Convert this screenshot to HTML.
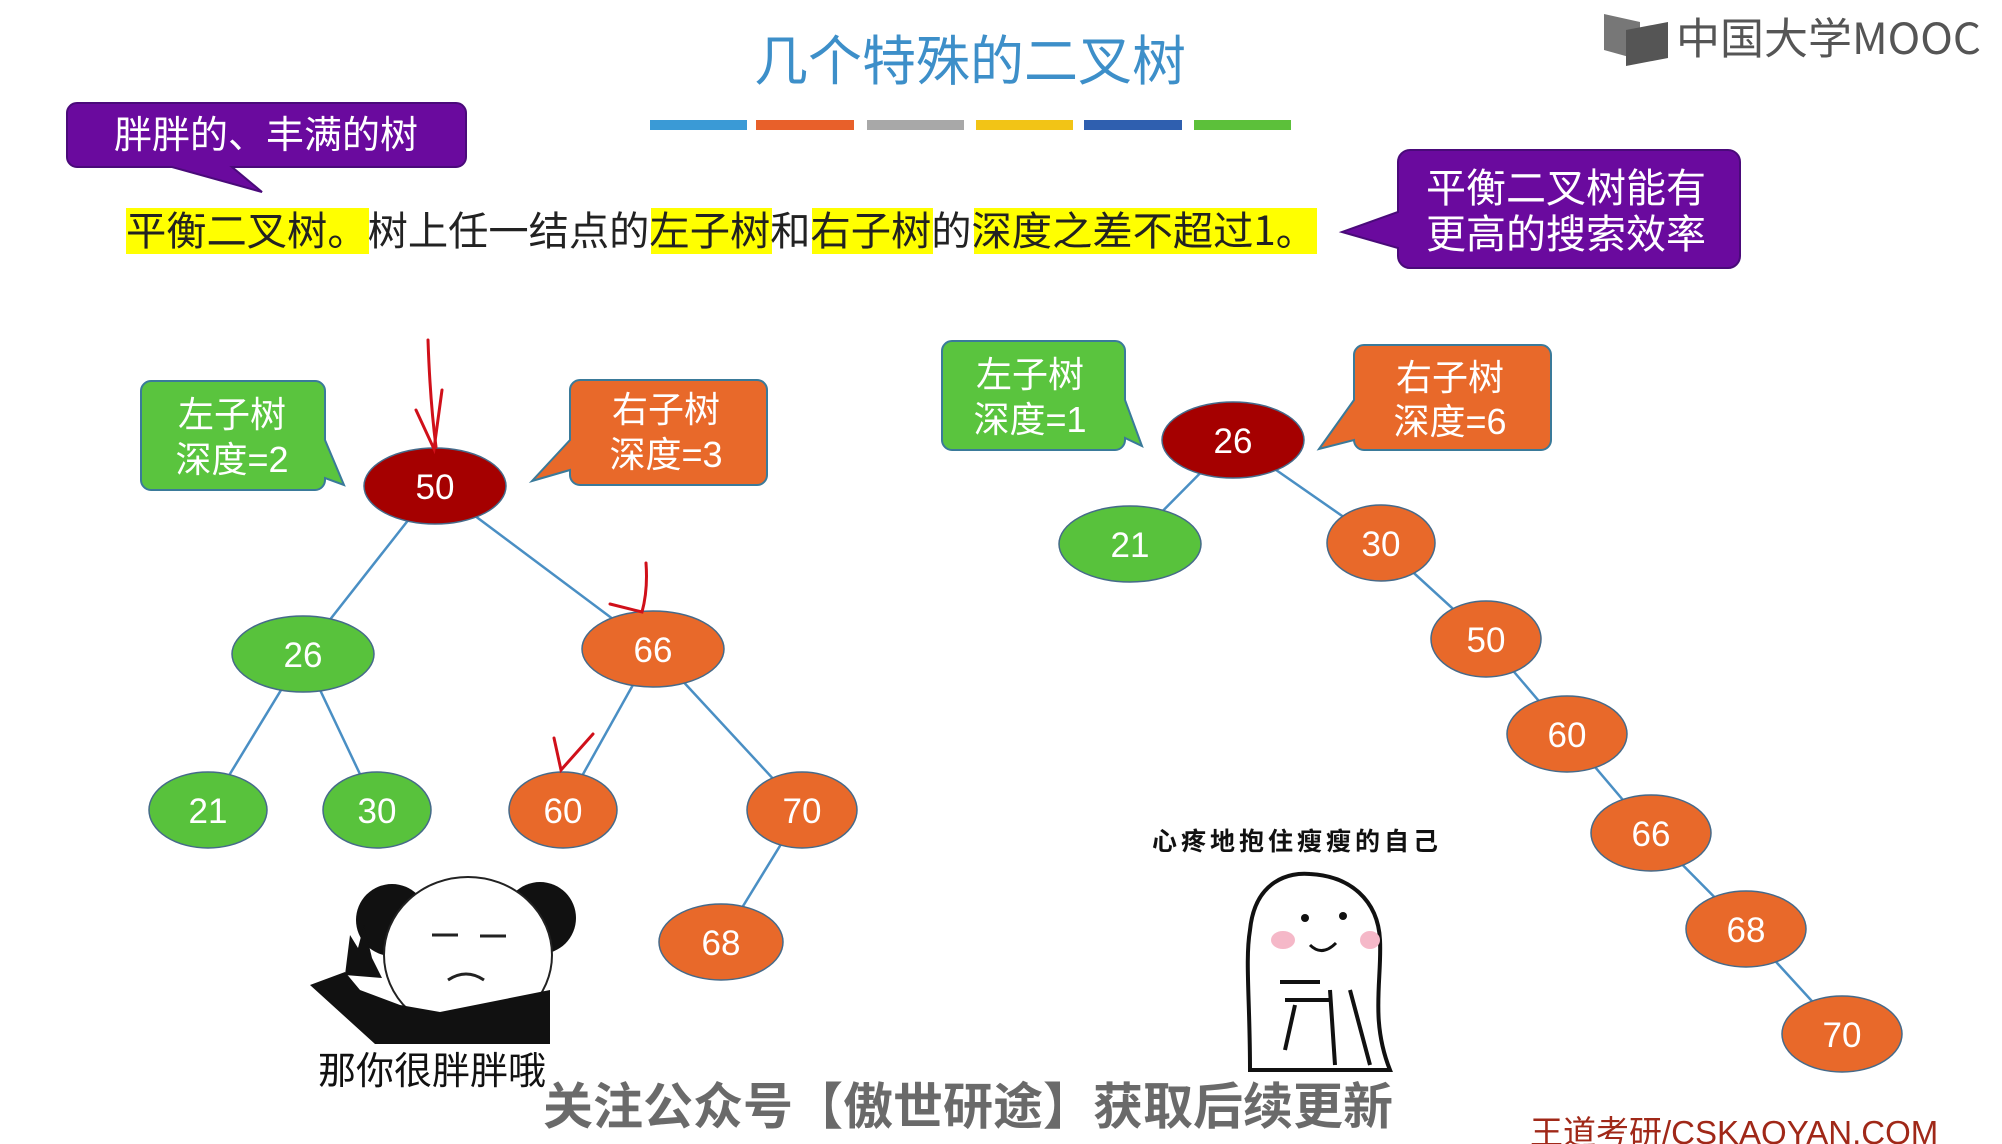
<!DOCTYPE html>
<html><head><meta charset="utf-8">
<style>
html,body{margin:0;padding:0;background:#fff;}
body{width:2002px;height:1144px;overflow:hidden;position:relative;font-family:"Liberation Sans","Noto Sans CJK SC",sans-serif;}
svg{position:absolute;left:0;top:0;}
</style></head><body>
<svg width="2002" height="1144" viewBox="0 0 2002 1144" xmlns="http://www.w3.org/2000/svg">
<!-- title -->
<text x="970" y="80" text-anchor="middle" font-size="54" fill="#3d8fc9" font-family="Noto Sans CJK SC,sans-serif">几个特殊的二叉树</text>
<!-- color bars -->
<rect x="650" y="120" width="97" height="10" fill="#3a9ad6"/>
<rect x="756" y="120" width="98" height="10" fill="#e8602a"/>
<rect x="867" y="120" width="97" height="10" fill="#a8a8a8"/>
<rect x="976" y="120" width="97" height="10" fill="#f2c416"/>
<rect x="1084" y="120" width="98" height="10" fill="#2f5faf"/>
<rect x="1194" y="120" width="97" height="10" fill="#5cc03a"/>
<!-- logo -->
<polygon points="1604,14 1640,22 1640,60 1604,50" fill="#777"/>
<polygon points="1626,30 1668,22 1668,58 1626,66" fill="#555"/>
<text x="1676" y="54" font-size="43" fill="#555" font-family="Noto Sans CJK SC,sans-serif" textLength="305" lengthAdjust="spacingAndGlyphs">中国大学MOOC</text>
<!-- purple box 1 -->
<path d="M80,103 H456 a10,10 0 0 1 10,10 V157 a10,10 0 0 1 -10,10 H232 L262,192 L172,167 H77 a10,10 0 0 1 -10,-10 V113 a10,10 0 0 1 10,-10Z" fill="#6a0a9e" stroke="#4a0a7a" stroke-width="2"/>
<text x="266" y="148" text-anchor="middle" font-size="38" fill="#fff" font-family="Noto Sans CJK SC,sans-serif">胖胖的、丰满的树</text>
<!-- purple box 2 -->
<path d="M1410,150 H1728 a12,12 0 0 1 12,12 V256 a12,12 0 0 1 -12,12 H1410 a12,12 0 0 1 -12,-12 V248 L1342,232 L1398,212 V162 a12,12 0 0 1 12,-12Z" fill="#6a0a9e" stroke="#4a0a7a" stroke-width="2"/>
<text x="1566" y="202" text-anchor="middle" font-size="40" fill="#fff" font-family="Noto Sans CJK SC,sans-serif">平衡二叉树能有</text>
<text x="1566" y="248" text-anchor="middle" font-size="40" fill="#fff" font-family="Noto Sans CJK SC,sans-serif">更高的搜索效率</text>
<!-- highlights -->
<rect x="126" y="208" width="243" height="46" fill="#ffff00"/>
<rect x="651" y="208" width="121" height="46" fill="#ffff00"/>
<rect x="812" y="208" width="121" height="46" fill="#ffff00"/>
<rect x="974" y="208" width="343" height="46" fill="#ffff00"/>
<text x="126" y="245" font-size="40" fill="#222" font-family="Noto Sans CJK SC,sans-serif" textLength="1190" lengthAdjust="spacingAndGlyphs">平衡二叉树。树上任一结点的左子树和右子树的深度之差不超过1。</text>

<g stroke="#4a8fc4" stroke-width="2.5">
<line x1="435" y1="486" x2="303" y2="654"/>
<line x1="435" y1="486" x2="653" y2="649"/>
<line x1="303" y1="654" x2="208" y2="810"/>
<line x1="303" y1="654" x2="377" y2="810"/>
<line x1="653" y1="649" x2="563" y2="810"/>
<line x1="653" y1="649" x2="802" y2="810"/>
<line x1="802" y1="810" x2="721" y2="942"/>
<line x1="1233" y1="440" x2="1130" y2="544"/>
<line x1="1233" y1="440" x2="1381" y2="543"/>
<line x1="1381" y1="543" x2="1486" y2="639"/>
<line x1="1486" y1="639" x2="1567" y2="734"/>
<line x1="1567" y1="734" x2="1651" y2="833"/>
<line x1="1651" y1="833" x2="1746" y2="929"/>
<line x1="1746" y1="929" x2="1842" y2="1034"/>
</g>
<g stroke="#456a8a" stroke-width="1.5">
<ellipse cx="435" cy="486" rx="71" ry="38" fill="#a50000"/>
<ellipse cx="303" cy="654" rx="71" ry="38" fill="#58c23c"/>
<ellipse cx="653" cy="649" rx="71" ry="38" fill="#e8692a"/>
<ellipse cx="208" cy="810" rx="59" ry="38" fill="#58c23c"/>
<ellipse cx="377" cy="810" rx="54" ry="38" fill="#58c23c"/>
<ellipse cx="563" cy="810" rx="54" ry="38" fill="#e8692a"/>
<ellipse cx="802" cy="810" rx="55" ry="38" fill="#e8692a"/>
<ellipse cx="721" cy="942" rx="62" ry="38" fill="#e8692a"/>
<ellipse cx="1233" cy="440" rx="71" ry="38" fill="#a50000"/>
<ellipse cx="1130" cy="544" rx="71" ry="38" fill="#58c23c"/>
<ellipse cx="1381" cy="543" rx="54" ry="38" fill="#e8692a"/>
<ellipse cx="1486" cy="639" rx="55" ry="38" fill="#e8692a"/>
<ellipse cx="1567" cy="734" rx="60" ry="38" fill="#e8692a"/>
<ellipse cx="1651" cy="833" rx="60" ry="38" fill="#e8692a"/>
<ellipse cx="1746" cy="929" rx="60" ry="38" fill="#e8692a"/>
<ellipse cx="1842" cy="1034" rx="60" ry="38" fill="#e8692a"/>
</g>
<g font-size="35" fill="#fff" text-anchor="middle" font-family="Liberation Sans,sans-serif">
<text x="435" y="499">50</text><text x="303" y="667">26</text><text x="653" y="662">66</text>
<text x="208" y="823">21</text><text x="377" y="823">30</text><text x="563" y="823">60</text>
<text x="802" y="823">70</text><text x="721" y="955">68</text>
<text x="1233" y="453">26</text><text x="1130" y="557">21</text><text x="1381" y="556">30</text>
<text x="1486" y="652">50</text><text x="1567" y="747">60</text><text x="1651" y="846">66</text>
<text x="1746" y="942">68</text><text x="1842" y="1047">70</text>
</g>
<g stroke="#3a7a9a" stroke-width="2">
<path d="M151,381 H315 a10,10 0 0 1 10,10 V440 L344,485 L325,478 V480 a10,10 0 0 1 -10,10 H151 a10,10 0 0 1 -10,-10 V391 a10,10 0 0 1 10,-10Z" fill="#5ac43e"/>
<path d="M580,380 H757 a10,10 0 0 1 10,10 V475 a10,10 0 0 1 -10,10 H580 a10,10 0 0 1 -10,-10 V470 L532,481 L570,440 V390 a10,10 0 0 1 10,-10Z" fill="#e8692a"/>
<path d="M952,341 H1115 a10,10 0 0 1 10,10 V400 L1142,446 L1125,438 V440 a10,10 0 0 1 -10,10 H952 a10,10 0 0 1 -10,-10 V351 a10,10 0 0 1 10,-10Z" fill="#5ac43e"/>
<path d="M1364,345 H1541 a10,10 0 0 1 10,10 V440 a10,10 0 0 1 -10,10 H1364 a10,10 0 0 1 -10,-10 V440 L1319,449 L1354,400 V355 a10,10 0 0 1 10,-10Z" fill="#e8692a"/>
</g>
<g font-size="36" fill="#fff" text-anchor="middle" font-family="Liberation Sans,Noto Sans CJK SC,sans-serif">
<text x="232" y="427">左子树</text><text x="232" y="472">深度=2</text>
<text x="666" y="422">右子树</text><text x="666" y="467">深度=3</text>
<text x="1030" y="387">左子树</text><text x="1030" y="432">深度=1</text>
<text x="1450" y="390">右子树</text><text x="1450" y="434">深度=6</text>
</g>
<!-- red arrows -->
<g stroke="#d0101a" stroke-width="3" fill="none" stroke-linecap="round">
<path d="M428,340 Q430,400 436,447"/>
<path d="M416,410 L434,449 L442,390"/>
<path d="M646,563 Q648,590 642,612 L610,604"/>
<path d="M554,738 L561,770 L593,734"/>
</g>
<!-- panda -->
<circle cx="392" cy="920" r="36" fill="#111"/>
<circle cx="540" cy="918" r="36" fill="#111"/>
<ellipse cx="468" cy="955" rx="84" ry="78" fill="#fff" stroke="#222" stroke-width="2"/>
<polygon points="310,985 345,972 360,990 400,1005 440,1012 550,990 550,1044 375,1044" fill="#111"/>
<path d="M345,975 L350,935 L358,948 L364,925 L372,958 L382,978 Z" fill="#111"/>
<path d="M432,935 h26 M480,936 h26 M448,980 q18,-12 36,0" stroke="#222" stroke-width="3" fill="none"/>
<text x="318" y="1084" font-size="38" fill="#111" font-family="Noto Sans CJK SC,sans-serif">那你很胖胖哦</text>
<!-- ghost -->
<text x="1152" y="850" font-size="25" font-weight="bold" fill="#111" letter-spacing="4" font-family="Noto Sans CJK SC,sans-serif">心疼地抱住瘦瘦的自己</text>
<path d="M1250,1070 C1250,1000 1245,960 1250,930 C1255,880 1290,872 1310,874 C1350,876 1378,900 1380,940 C1382,980 1370,1020 1390,1070 Z" fill="#fff" stroke="#111" stroke-width="4"/>
<ellipse cx="1283" cy="940" rx="12" ry="9" fill="#f5b8c8"/>
<ellipse cx="1370" cy="940" rx="10" ry="9" fill="#f5b8c8"/>
<circle cx="1305" cy="918" r="4" fill="#111"/><circle cx="1343" cy="916" r="4" fill="#111"/>
<path d="M1310,945 q12,12 26,-2" stroke="#111" stroke-width="3" fill="none"/>
<path d="M1280,982 h40 M1285,1000 h45 M1295,1005 l-10,45 M1330,990 l5,75 M1350,990 l20,75" stroke="#111" stroke-width="4" fill="none"/>
<!-- subtitle -->
<text x="968" y="1124" text-anchor="middle" font-size="50" font-weight="bold" fill="#6a6a6a" stroke="#fff" stroke-width="2" paint-order="stroke" font-family="Noto Sans CJK SC,sans-serif">关注公众号【傲世研途】获取后续更新</text>
<text x="1530" y="1144" font-size="33" fill="#a02818" font-family="Liberation Sans,Noto Sans CJK SC,sans-serif">王道考研/CSKAOYAN.COM</text>
</svg>
</body></html>
